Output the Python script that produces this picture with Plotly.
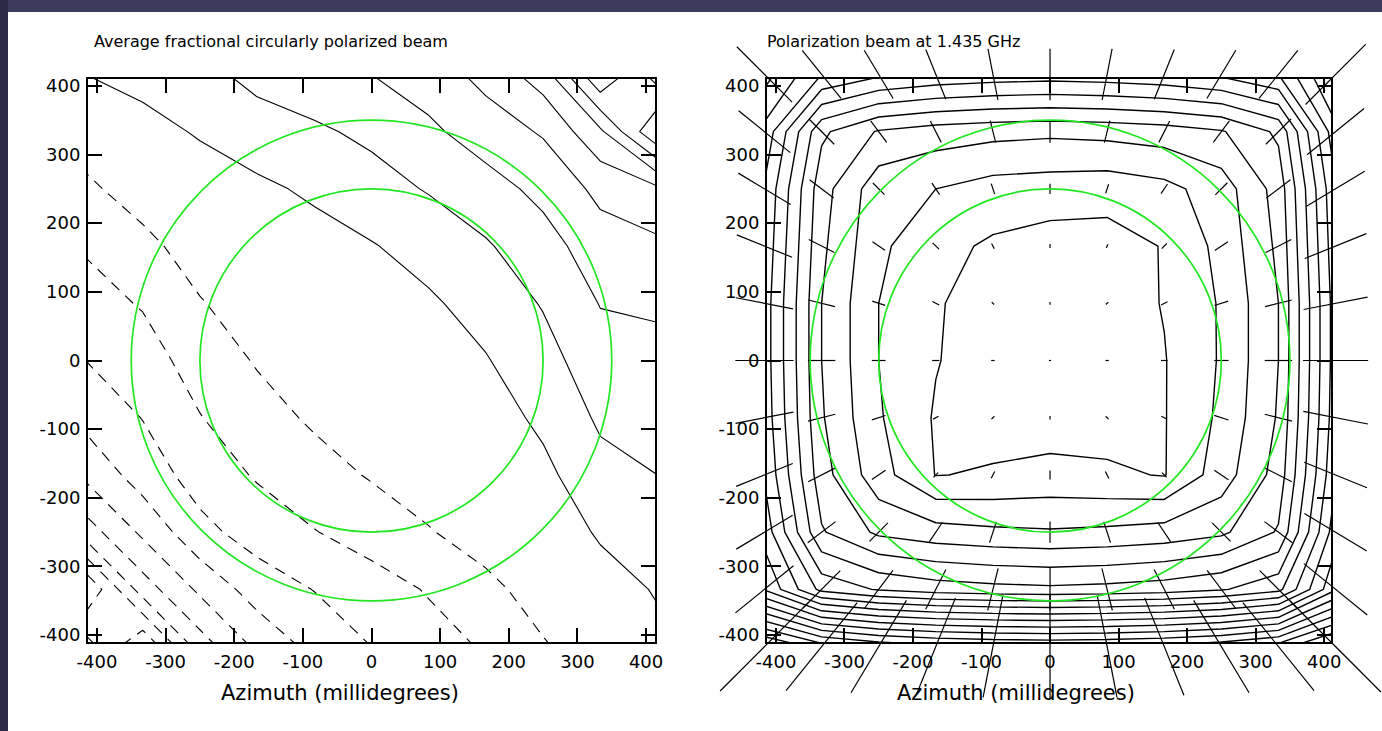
import math
import plotly.graph_objects as go

# map grid (1/12 degree = 83.3 millidegrees), azimuth and elevation
grid = [-416.7, -333.3, -250.0, -166.7, -83.3, 0.0, 83.3, 166.7, 250.0, 333.3, 416.7]

tick_vals = [-400, -300, -200, -100, 0, 100, 200, 300, 400]
tick_text = ["-400", "-300", "-200", "-100", "0", "100", "200", "300", "400"]

# beam circles drawn on both maps (millidegrees)
circle_radii = [250, 350]

# average fractional circular polarization, rows from bottom (-417) to top (+417)
circ_pol = [
    [-7.5, -10.0, -6.5, -4.8, -3.7, -3.0, -2.4, -1.9, -1.1, -0.4, 0.7],
    [-10.0, -6.5, -4.8, -3.53, -2.97, -2.45, -1.92, -1.29, -0.53, 0.47, 1.1],
    [-6.5, -4.8, -3.28, -2.59, -2.04, -1.56, -1.07, -0.51, 0.20, 1.15, 1.6],
    [-4.8, -3.53, -2.59, -1.90, -1.37, -0.92, -0.46, 0.07, 0.75, 1.69, 2.0],
    [-3.7, -2.97, -2.04, -1.37, -0.86, -0.43, 0.01, 0.53, 1.21, 2.15, 2.5],
    [-3.0, -2.45, -1.56, -0.92, -0.43, 0.0, 0.43, 0.94, 1.63, 2.59, 2.8],
    [-2.4, -1.92, -1.07, -0.46, 0.01, 0.43, 0.86, 1.38, 2.07, 3.04, 3.1],
    [-1.9, -1.29, -0.51, 0.07, 0.53, 0.94, 1.38, 1.90, 2.59, 3.56, 3.8],
    [-1.2, -0.53, 0.20, 0.75, 1.21, 1.63, 2.07, 2.59, 3.28, 4.25, 4.8],
    [-0.5, 0.47, 1.15, 1.69, 1.85, 2.2, 2.8, 3.5, 4.1, 5.8, 9.0],
    [1.0, 1.5, 1.8, 2.2, 2.6, 3.0, 3.5, 4.3, 5.5, 9.0, 6.5],
]

# linear polarization at 1.435 GHz (percent), rows bottom -> top
lin_pol = [
    [18.3, 16.5, 15.7, 15.3, 15.1, 15.0, 15.1, 15.3, 15.7, 16.5, 18.7],
    [10.9, 7.7, 6.9, 6.5, 6.3, 6.2, 6.3, 6.5, 6.9, 7.7, 11.9],
    [9.6, 5.1, 3.8, 3.4, 3.2, 3.1, 3.2, 3.4, 3.8, 5.1, 10.6],
    [8.9, 4.4, 2.4, 0.97, 1.1, 1.3, 1.15, 0.95, 2.5, 4.4, 9.9],
    [8.6, 4.1, 2.1, 0.9, 0.6, 0.5, 0.6, 0.95, 2.2, 4.1, 9.6],
    [8.5, 4.0, 2.0, 1.05, 0.5, 0.3, 0.5, 0.95, 2.1, 4.0, 9.5],
    [8.5, 4.0, 2.0, 1.1, 0.5, 0.4, 0.5, 1.05, 2.1, 4.0, 9.5],
    [8.7, 4.2, 2.2, 1.3, 0.85, 0.6, 0.6, 1.05, 2.3, 4.2, 9.7],
    [8.9, 4.4, 2.4, 2.0, 1.6, 1.5, 1.4, 1.7, 2.5, 4.4, 9.9],
    [9.7, 5.2, 3.9, 3.5, 3.3, 3.2, 3.3, 3.5, 3.9, 5.2, 10.7],
    [11.4, 9.0, 8.2, 7.8, 7.6, 7.5, 7.6, 7.8, 8.2, 9.0, 12.4],
]

# position angle of the polarization vectors (deg), rows bottom -> top
pol_angle = [
    [45, 51, 59, 68, 79, 90, 101, 112, 121, 129, 135],
    [39, 45, 53, 63, 76, 90, 104, 117, 127, 135, 141],
    [31, 37, 45, 56, 72, 90, 108, 124, 135, 143, 149],
    [22, 27, 34, 45, 63, 90, 117, 135, 146, 153, 158],
    [11, 14, 18, 27, 45, 90, 135, 153, 162, 166, 169],
    [0, 0, 0, 0, 0, 0, 0, 0, 0, 0, 0],
    [169, 166, 162, 153, 135, 90, 45, 27, 18, 14, 11],
    [158, 153, 146, 135, 117, 90, 63, 45, 34, 27, 22],
    [149, 143, 135, 124, 108, 90, 72, 56, 45, 37, 31],
    [141, 135, 127, 117, 104, 90, 76, 63, 53, 45, 39],
    [135, 129, 121, 112, 101, 90, 79, 68, 59, 51, 45],
]

W, H = 1382, 731
vec_scale = 10.0  # millidegrees of vector per percent

# frame pixel boxes (left, right, top, bottom)
left_box = (88, 655, 79, 642)
right_box = (767, 1331, 79, 642)
vec_box = (700, 1382, 14, 731)
left_xr, left_yr = [-413, 413], [-410, 410]
right_xr, right_yr = [-413, 410], [-410, 410]


def dom(box):
    l, r, t, b = box
    return [l / W, r / W], [1 - b / H, 1 - t / H]


ux = (right_xr[1] - right_xr[0]) / (right_box[1] - right_box[0])
uy = (right_yr[1] - right_yr[0]) / (right_box[3] - right_box[2])
vec_xr = [right_xr[0] - (right_box[0] - vec_box[0]) * ux, right_xr[1] + (vec_box[1] - right_box[1]) * ux]
vec_yr = [right_yr[0] - (vec_box[3] - right_box[3]) * uy, right_yr[1] + (right_box[2] - vec_box[2]) * uy]

fig = go.Figure()

# left map: solid positive, dashed negative contours
fig.add_trace(go.Contour(x=grid, y=grid, z=circ_pol, xaxis="x", yaxis="y",
                         contours=dict(start=1, end=9, size=1, coloring="none"),
                         line=dict(color="black", width=1.1, smoothing=0),
                         showscale=False, hoverinfo="skip"))
fig.add_trace(go.Contour(x=grid, y=grid, z=circ_pol, xaxis="x", yaxis="y",
                         contours=dict(start=-10, end=-1, size=1, coloring="none"),
                         line=dict(color="black", width=1.1, dash="11px,8px", smoothing=0),
                         showscale=False, hoverinfo="skip"))

# right map: polarization contours
fig.add_trace(go.Contour(x=grid, y=grid, z=lin_pol, xaxis="x2", yaxis="y2",
                         contours=dict(start=1, end=24, size=1, coloring="none"),
                         line=dict(color="black", width=1.4, smoothing=0),
                         showscale=False, hoverinfo="skip"))

# polarization vectors (allowed to run past the frame)
vx, vy = [], []
for j, yc in enumerate(grid):
    for i, xc in enumerate(grid):
        half = 0.5 * vec_scale * max(lin_pol[j][i], 0.25)
        a = math.radians(pol_angle[j][i])
        dx, dy = half * math.cos(a), half * math.sin(a)
        vx += [xc - dx, xc + dx, None]
        vy += [yc - dy, yc + dy, None]
fig.add_trace(go.Scatter(x=vx, y=vy, mode="lines", xaxis="x3", yaxis="y3",
                         line=dict(color="black", width=1.2), hoverinfo="skip"))

shapes = []
for xr, yr in (("x", "y"), ("x2", "y2")):
    for r in circle_radii:
        shapes.append(dict(type="circle", xref=xr, yref=yr, x0=-r, x1=r, y0=-r, y1=r,
                           line=dict(color="#22e622", width=1.7)))
# dark window border
shapes.append(dict(type="rect", xref="paper", yref="paper", x0=0, x1=1, y0=1 - 12 / H, y1=1,
                   line=dict(width=0), fillcolor="#3c3b5d", layer="below"))
shapes.append(dict(type="rect", xref="paper", yref="paper", x0=0, x1=8 / W, y0=0, y1=1,
                   line=dict(width=0), fillcolor="#2b2a45", layer="below"))

font = dict(family="DejaVu Sans", size=16, color="black")
title_font = dict(family="DejaVu Sans", size=21, color="black")
tick_font = dict(family="DejaVu Sans", size=18, color="black")
axis = dict(showline=True, linecolor="black", linewidth=2, mirror="allticks",
            ticks="inside", ticklen=14, tickwidth=1.5, tickcolor="black",
            tickvals=tick_vals, ticktext=tick_text, showgrid=False, zeroline=False,
            tickfont=tick_font, ticklabelstandoff=2, automargin=False)

lx, ly = dom(left_box)
rx, ry = dom(right_box)
vxd, vyd = dom(vec_box)


def label(text, px, py, f):
    return dict(text=text, x=px / W, y=1 - py / H, xref="paper", yref="paper",
                xanchor="center", yanchor="middle", showarrow=False, font=f)


fig.update_layout(
    width=W, height=H,
    margin=dict(l=0, r=0, t=0, b=0, pad=0, autoexpand=False),
    paper_bgcolor="white", plot_bgcolor="rgba(0,0,0,0)",
    showlegend=False,
    shapes=shapes,
    xaxis=dict(axis, domain=lx, range=left_xr, anchor="y"),
    yaxis=dict(axis, domain=ly, range=left_yr, anchor="x"),
    xaxis2=dict(axis, domain=rx, range=right_xr, anchor="y2"),
    yaxis2=dict(axis, domain=ry, range=right_yr, anchor="x2"),
    xaxis3=dict(domain=vxd, range=vec_xr, anchor="y3", visible=False),
    yaxis3=dict(domain=vyd, range=vec_yr, anchor="x3", visible=False),
    annotations=[
        label("Average fractional circularly polarized beam", 271, 42, font),
        label("Polarization beam at 1.435 GHz", 894, 42, font),
        label("Azimuth (millidegrees)", 340, 693, title_font),
        label("Azimuth (millidegrees)", 1016, 693, title_font),
    ],
)

page_fix = ("document.documentElement.style.margin='0';"
            "document.body.style.margin='0';document.body.style.padding='0';"
            "document.body.style.overflow='hidden';"
            "var d=document.getElementById('{plot_id}');"
            "d.style.position='absolute';d.style.left='0px';d.style.top='0px';")

fig.write_html("out.html", config={"displayModeBar": False}, post_script=page_fix)
